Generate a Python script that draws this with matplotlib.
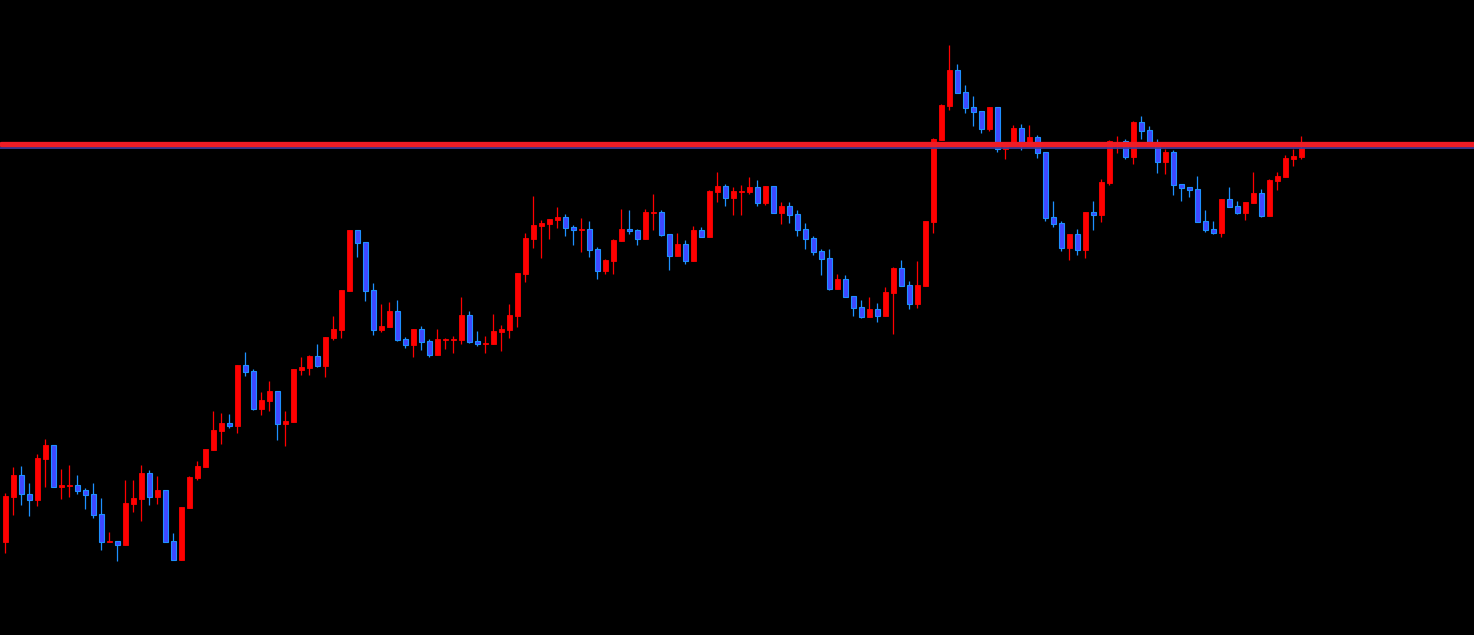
import matplotlib
matplotlib.use("Agg")
import matplotlib.pyplot as plt
import numpy as np

# OHLC per candle (price units)
opens = [93, 138, 160, 141, 135, 176, 190, 148, 149, 150, 145, 141, 121, 93, 94, 90, 131, 136, 162, 138,
         145, 94, 75, 127, 157, 168, 185, 204, 212, 209, 270, 264, 226, 234, 244, 211, 213, 265, 267, 279,
         269, 297, 305, 344, 405, 393, 345, 305, 308, 324, 296, 290, 306, 294, 280, 295.5, 295.5, 295, 320, 294,
         291, 291, 303, 305, 319, 361, 396, 409, 411, 415, 418, 408, 405, 406, 386, 364, 374, 394, 406, 405,
         396, 422, 423, 401, 379, 391, 374, 405, 398, 443, 449, 437, 443.5, 443, 448, 432, 449, 422, 429, 421,
         406, 397, 384, 377, 346, 356, 339, 328, 318, 326, 319, 342, 367, 350, 331, 349, 413, 495, 529, 565,
         543, 528, 524, 506, 528, 486, 490, 507, 491, 498, 483, 418, 412, 387, 401, 385, 423, 420, 452, 489,
         494, 478, 513, 505, 492, 473, 483, 451, 448, 446, 414, 406, 402, 436, 429, 422, 432, 442, 419, 454,
         458, 476, 478]
highs = [142, 168, 169, 152, 181, 196, 190, 166, 170, 160, 147, 152, 137, 103, 94, 155, 155, 170, 165, 159,
         145, 102, 128, 159, 174, 186, 224, 222, 221, 270, 283, 266, 243, 254, 244, 224, 266, 278, 280, 291,
         298, 319, 345, 405, 405, 393, 352, 331, 333, 335, 298, 306, 309, 296, 306, 297, 299, 338, 324, 304,
         299, 321, 310, 331, 362, 402, 439, 415, 416, 428, 421, 410, 417, 414, 388, 376, 396, 426, 425, 406,
         426, 441, 425, 401, 402, 395, 409, 408, 445, 463, 451, 448, 450, 458, 455, 449, 449, 433, 433, 425,
         412, 399, 386, 386, 361, 360, 339, 335, 338, 332, 348, 368, 375, 354, 374, 414, 497, 531, 590, 571,
         550, 539, 524, 528, 528, 492, 510, 511, 510, 500, 483, 434, 414, 401, 406, 423, 434, 456, 495, 499,
         496, 514, 519, 509, 496, 486, 485, 451, 448, 459, 425, 414, 436, 448, 434, 433, 463, 446, 456, 463,
         480, 486, 499]
lows = [82, 120, 130, 119, 129, 148, 148, 136, 138, 141, 126, 117, 85, 93, 74, 90, 123, 114, 130, 131,
        93, 75, 75, 127, 155, 168, 185, 191, 207, 202, 259, 225, 220, 224, 195, 189, 213, 260, 260, 268,
        258, 295, 297, 344, 378, 334, 300, 303, 308, 294, 287, 278, 285, 278, 280, 286, 282, 291, 292, 289,
        282, 291, 284, 297, 308, 353, 387, 377, 396, 407, 399, 390, 383, 378, 356, 361, 361, 394, 401, 390,
        396, 405, 399, 365, 379, 371, 374, 398, 398, 433, 429, 420, 420, 441, 429, 430, 422, 411, 412, 399,
        386, 380, 360, 345, 346, 338, 319, 317, 318, 313, 319, 301, 349, 326, 327, 349, 402, 495, 525, 542,
        522, 509, 502, 504, 483, 476, 490, 485, 491, 477, 414, 408, 384, 375, 380, 377, 405, 413, 450, 482,
        476, 471, 496, 492, 462, 461, 440, 434, 438, 413, 403, 401, 398, 428, 421, 415, 432, 418, 419, 445,
        458, 469, 476]
closes = [139, 160, 141, 135, 177, 190, 148, 150, 150, 144, 140, 120, 93, 94, 90, 132, 137, 162, 138, 145,
          93, 75, 128, 158, 169, 186, 205, 212, 209, 270, 263, 226, 235, 244, 211, 214, 266, 268, 279, 269,
          298, 306, 345, 405, 392, 344, 305, 309, 324, 295, 290, 306, 293, 280, 296, 296.5, 296.5, 320, 293, 291,
          292, 304, 306, 320, 362, 397, 410, 412, 416, 418, 407, 405, 406, 385, 364, 375, 395, 406, 404, 396,
          423, 423, 400, 379, 391, 374, 405, 398, 444, 449, 437, 444, 444.5, 448, 432, 449, 422, 429, 420, 405,
          396, 383, 376, 346, 356, 338, 327, 318, 326, 319, 343, 367, 349, 331, 350, 414, 496, 530, 565, 542,
          527, 523, 506, 528, 486, 490, 507, 492, 498, 482, 417, 411, 387, 401, 385, 423, 420, 453, 494, 493,
          478, 513, 504, 492, 473, 483, 450, 447, 445, 413, 405, 402, 436, 428, 422, 433, 442, 419, 455, 459,
          477, 479, 487]

resistance = 490.7
guide = 486.7

UP_COL = "#ff0000"
DN_FILL = "#3f48ff"
DN_EDGE = "#1e90ff"

o = np.array(opens, dtype=float)
h = np.array(highs, dtype=float)
l = np.array(lows, dtype=float)
c = np.array(closes, dtype=float)
x = np.arange(len(o))
up = c >= o

fig = plt.figure(figsize=(14.74, 6.35), dpi=100)
fig.patch.set_facecolor("#000000")
ax = fig.add_axes([0, 0, 1, 1])
ax.set_facecolor("#000000")

# wicks
ax.vlines(x[up], l[up], h[up], color=UP_COL, linewidth=0.9, zorder=2)
ax.vlines(x[~up], l[~up], h[~up], color=DN_EDGE, linewidth=0.9, zorder=2)

# bodies
body_bot = np.minimum(o, c)
body_h = np.maximum(np.abs(c - o), 1.0)
ax.bar(x[up], body_h[up], bottom=body_bot[up], width=0.62,
       color=UP_COL, edgecolor=UP_COL, linewidth=0.6, zorder=3)
ax.bar(x[~up], body_h[~up], bottom=body_bot[~up], width=0.62,
       color=DN_FILL, edgecolor=DN_EDGE, linewidth=0.8, zorder=3)

# horizontal lines
ax.axhline(guide, color="#3a3a9c", linewidth=1.3, zorder=4)
ax.axhline(resistance, xmin=0.0008, color="#ee1c25", linewidth=3.8,
           solid_capstyle="round", zorder=5)

ax.set_xlim(-5.5 / 8, (1474 - 5.5) / 8)
ax.set_ylim(0, 635)
ax.axis("off")

plt.savefig("out.png", dpi=100, facecolor="#000000")
plt.close()
